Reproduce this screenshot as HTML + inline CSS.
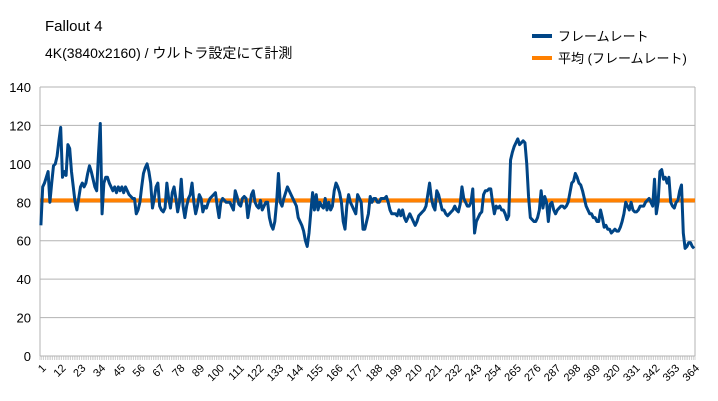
<!DOCTYPE html>
<html><head><meta charset="utf-8"><style>
body{margin:0;background:#fff;}
svg{display:block;font-family:"Liberation Sans","Noto Sans CJK JP",sans-serif;}
</style></head><body>
<svg id="chart" width="718" height="401" xmlns="http://www.w3.org/2000/svg">
<rect width="718" height="401" fill="#fff"/>
<text x="45" y="31" font-size="15" fill="#000">Fallout 4</text>
<text x="45" y="58" font-size="14" fill="#000">4K(3840x2160) / ウルトラ設定にて計測</text>
<g>
<line x1="532" y1="36" x2="552" y2="36" stroke="#004586" stroke-width="4"/>
<text x="558" y="41" font-size="13">フレームレート</text>
<line x1="532" y1="58" x2="552" y2="58" stroke="#ff8000" stroke-width="4"/>
<text x="558" y="63" font-size="13">平均 (フレームレート)</text>
</g>
<g id="grid"></g><g id="yt"></g><g id="xt"></g><g id="series"></g>
</svg>
<script>
const fps=[68,88,90,93,96,80,90,99,100,104,
112,119,93,96,94,110,108,96,88,80,
76,82,88,90,88,90,95,99,96,92,
88,86,105,121,74,90,93,93,90,88,
86,88,85,88,86,88,85,88,86,84,
83,82,82,74,76,80,88,95,98,100,
96,90,77,82,88,90,78,76,75,77,
90,82,77,85,88,82,75,80,92,78,
72,78,82,84,90,80,74,78,84,82,
75,78,77,80,82,83,84,85,78,72,
80,82,81,80,80,80,78,76,86,83,
79,78,82,83,82,72,78,84,86,80,
78,77,81,76,78,80,80,72,68,66,
70,80,95,80,78,82,85,88,86,84,
82,80,78,72,70,68,65,60,57,64,
75,85,76,84,76,80,78,77,82,76,
80,76,78,86,90,88,85,80,70,66,
78,84,80,78,76,74,84,82,80,66,
66,70,74,83,80,82,82,80,80,82,
82,82,83,80,76,74,74,74,73,76,
73,76,72,70,72,74,72,70,68,70,
73,74,75,76,78,84,90,82,78,76,
86,84,80,76,76,74,73,74,75,76,
78,76,75,79,88,82,80,78,78,80,
87,64,70,72,74,75,84,86,86,87,
87,80,74,78,77,78,76,76,74,71,
73,102,106,109,111,113,110,111,112,111,
100,83,72,71,70,70,72,76,86,77,
83,80,70,79,80,76,74,76,77,78,
78,77,78,80,85,90,91,95,93,90,
89,86,82,78,76,74,74,72,72,70,
70,76,72,67,68,66,66,64,65,66,
65,65,67,70,74,80,78,76,80,76,
75,75,76,78,78,78,80,81,82,80,
78,92,74,80,96,97,92,93,90,93,
80,78,77,80,81,86,89,64,56,57,
59,59,57,56];
const avgValue=[81];
const yTicks=[0,20,40,60,80,100,120,140];
const xLabelStep=11;
const X0=40,X1=695,Y0=356,Y1=87,YMAX=140;
const n=fps.length;
const bw=(X1-X0)/n;
const xs=i=>X0+(i+0.5)*bw;
const ys=v=>Y0-(v/YMAX)*(Y0-Y1);
const NS="http://www.w3.org/2000/svg";
function mk(tag,attrs,parent){const e=document.createElementNS(NS,tag);for(const k in attrs)e.setAttribute(k,attrs[k]);document.getElementById(parent).appendChild(e);return e;}
yTicks.forEach(t=>{
  const g=mk('line',{x1:X0,x2:X1,y1:ys(t),y2:ys(t),stroke:'#b3b3b3','stroke-width':1},'grid');
  
  
  const tx=mk('text',{x:31,y:ys(t)+5,'font-size':13,'text-anchor':'end'},'yt');
  tx.textContent=t;
  
  
});
const la=mk('line',{x1:X0,x2:X0,y1:Y1,y2:Y0,stroke:'#b3b3b3'},'grid');


const ra=mk('line',{x1:X1,x2:X1,y1:Y1,y2:Y0,stroke:'#b3b3b3'},'grid');


for(let i=0;i<=n;i++){
  const x=X0+i*bw;
  const tk=mk('line',{x1:x,x2:x,y1:Y0,y2:Y0+4,stroke:'#b3b3b3','stroke-width':0.6},'xt');
  
  
}
for(let i=0;i<n;i+=xLabelStep){
  const x=xs(i),y=Y0+10;
  const t=mk('text',{x:x+3,y:y+4,'font-size':11,'text-anchor':'end',transform:`rotate(-45 ${x+3} ${y})`},'xt');
  t.textContent=String(i+1);
  
  
}
const av=mk('line',{x1:X0,x2:X1,y1:ys(avgValue[0]),y2:ys(avgValue[0]),stroke:'#ff8000','stroke-width':4},'series');


const pts=fps.map((v,i)=>xs(i).toFixed(2)+','+ys(v).toFixed(2)).join(' ');
const pl=mk('polyline',{points:pts,fill:'none',stroke:'#004586','stroke-width':3,'stroke-linejoin':'round'},'series');


</script>
</body></html>
